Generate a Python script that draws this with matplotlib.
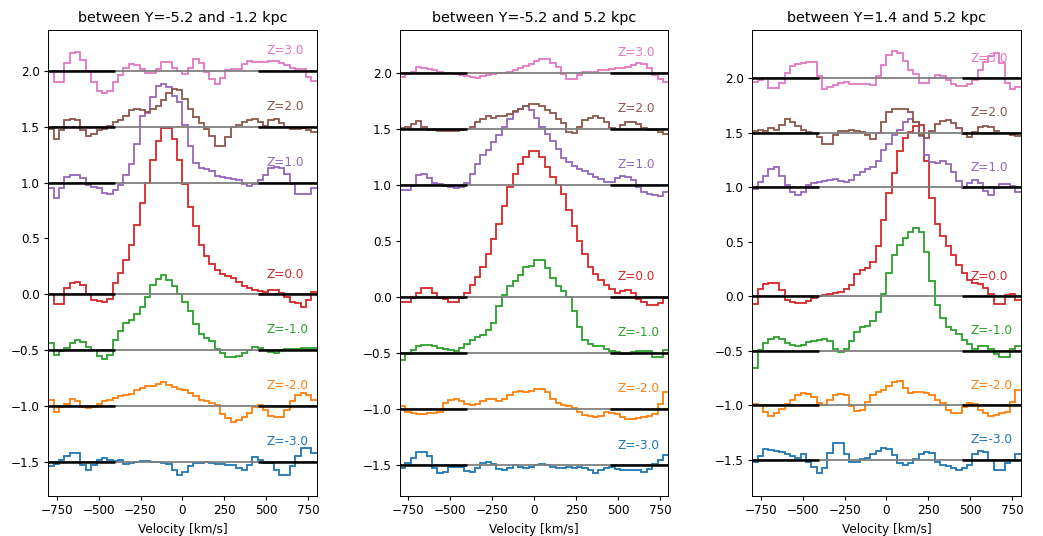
import numpy as np
import matplotlib
matplotlib.use("Agg")
import matplotlib.pyplot as plt

# the reference was drawn a bit smaller than default, scale things down
plt.rcParams["xtick.labelsize"] = 8.65
plt.rcParams["ytick.labelsize"] = 8.65
plt.rcParams["axes.labelsize"] = 8.65
plt.rcParams["axes.titlesize"] = 10.4
plt.rcParams["xtick.major.size"] = 3.0
plt.rcParams["ytick.major.size"] = 3.0
plt.rcParams["xtick.major.pad"] = 3.0
plt.rcParams["ytick.major.pad"] = 3.0
plt.rcParams["axes.linewidth"] = 0.7

# velocity bins (km/s)
vel_edges = np.arange(-800, 801, 32)
z_values = [-3.0, -2.0, -1.0, 0.0, 1.0, 2.0, 3.0]
offsets = [-1.5, -1.0, -0.5, 0.0, 1.0, 1.5, 2.0]
titles = ["between Y=-5.2 and -1.2 kpc", "between Y=-5.2 and 5.2 kpc", "between Y=1.4 and 5.2 kpc"]
ylims = [(-1.804, 2.367), (-1.77, 2.38), (-1.83, 2.443)]
xticks = [-750, -500, -250, 0, 250, 500, 750]

# panel 1 : Y=-5.2 .. -1.2
left_zm3 = [-0.04, -0.02, 0.02, 0.05, 0.08, 0.08, -0.03, -0.07, -0.03, 0.02, 0.03, 0.02, 0.01, 0.02, -0.02, -0.01, 0.0, 0.01, 0.01, 0.0,
            0.0, -0.01, -0.02, -0.07, -0.12, -0.09, -0.04, -0.01, -0.01, 0.0, -0.01, -0.02, -0.02, -0.03, -0.03, -0.06, -0.07, -0.03, 0.04, 0.02,
            -0.01, -0.01, -0.07, -0.12, -0.12, -0.04, 0.05, 0.12, 0.12, 0.08]
left_zm2 = [0.05, -0.05, -0.01, 0.02, 0.06, 0.04, -0.01, -0.02, -0.01, 0.02, 0.04, 0.05, 0.07, 0.09, 0.10, 0.11, 0.14, 0.16, 0.18, 0.18,
            0.20, 0.21, 0.19, 0.17, 0.15, 0.14, 0.12, 0.09, 0.05, 0.04, 0.03, 0.01, -0.07, -0.11, -0.14, -0.13, -0.10, -0.06, -0.01, 0.01,
            -0.04, -0.09, -0.10, -0.10, -0.04, 0.04, 0.10, 0.12, 0.10, 0.05]
left_zm1 = [0.06, -0.04, -0.01, 0.02, 0.06, 0.09, 0.07, 0.03, 0.0, -0.05, -0.08, -0.04, 0.09, 0.17, 0.24, 0.27, 0.32, 0.39, 0.48, 0.58,
            0.64, 0.67, 0.63, 0.57, 0.50, 0.43, 0.35, 0.23, 0.14, 0.11, 0.08, 0.01, -0.03, -0.06, -0.06, -0.05, -0.03, 0.0, 0.03, 0.02,
            0.0, -0.02, -0.03, 0.0, 0.01, 0.01, 0.01, 0.02, 0.02, 0.02]
left_z0 = [0.0, -0.09, -0.09, 0.06, 0.10, 0.11, 0.08, 0.0, -0.05, -0.06, -0.07, -0.04, 0.10, 0.19, 0.31, 0.44, 0.62, 0.82, 1.00, 1.20,
           1.37, 1.49, 1.49, 1.39, 1.20, 0.99, 0.78, 0.61, 0.44, 0.34, 0.27, 0.22, 0.18, 0.16, 0.15, 0.11, 0.07, 0.06, 0.04, 0.03,
           0.02, 0.04, 0.04, 0.01, -0.02, -0.07, -0.08, -0.11, -0.05, 0.02]
left_z1 = [-0.05, -0.14, -0.05, 0.05, 0.07, 0.07, 0.04, -0.02, -0.04, -0.05, -0.09, -0.10, -0.07, -0.02, 0.07, 0.17, 0.35, 0.60, 0.62, 0.77,
           0.87, 0.88, 0.86, 0.78, 0.72, 0.52, 0.33, 0.18, 0.13, 0.12, 0.10, 0.06, 0.05, 0.04, 0.03, 0.02, -0.01, -0.03, -0.01, 0.02,
           0.07, 0.13, 0.14, 0.13, 0.08, -0.01, -0.10, -0.10, -0.10, -0.05]
left_z2 = [-0.02, -0.11, -0.03, 0.06, 0.07, 0.06, -0.03, -0.08, -0.06, -0.03, -0.02, 0.01, 0.04, 0.06, 0.10, 0.15, 0.16, 0.15, 0.13, 0.16,
           0.19, 0.24, 0.30, 0.34, 0.33, 0.25, 0.16, 0.09, 0.03, -0.02, -0.08, -0.17, -0.17, -0.09, 0.0, 0.02, 0.04, 0.06, 0.07, 0.04,
           0.01, 0.06, 0.07, 0.03, 0.0, -0.02, -0.02, -0.01, -0.03, -0.05]
left_z3 = [0.0, -0.10, -0.10, 0.07, 0.16, 0.17, 0.10, 0.0, -0.10, -0.18, -0.20, -0.18, -0.10, -0.04, 0.03, 0.06, 0.05, 0.02, -0.02, -0.02,
           0.02, 0.08, 0.08, 0.03, 0.0, -0.03, 0.03, 0.11, 0.07, -0.01, -0.07, -0.12, -0.06, 0.01, 0.02, 0.02, 0.06, 0.09, 0.08, 0.08,
           0.08, 0.09, 0.09, 0.07, 0.05, 0.03, 0.02, 0.02, -0.05, -0.09]

# panel 2 : Y=-5.2 .. 5.2
all_zm3 = [-0.02, 0.02, 0.07, 0.12, 0.12, 0.08, -0.02, -0.07, -0.06, -0.01, -0.01, -0.01, -0.05, -0.06, -0.02, 0.02, 0.03, 0.01, -0.03, -0.04,
           -0.02, 0.0, -0.01, -0.02, -0.01, 0.0, 0.01, 0.0, -0.01, -0.02, -0.02, -0.01, -0.02, -0.01, -0.02, -0.04, -0.07, -0.04, -0.02, -0.01,
           -0.03, -0.04, -0.04, -0.04, -0.04, -0.06, -0.03, 0.01, 0.05, 0.09]
all_zm2 = [0.03, -0.02, -0.03, -0.04, -0.04, -0.03, -0.03, -0.02, 0.06, 0.08, 0.09, 0.07, 0.05, 0.04, 0.05, 0.07, 0.09, 0.09, 0.07, 0.09,
           0.13, 0.15, 0.16, 0.15, 0.16, 0.18, 0.18, 0.15, 0.09, 0.06, 0.04, 0.03, 0.01, -0.02, -0.05, -0.06, -0.07, -0.06, -0.02, -0.03,
           -0.04, -0.07, -0.09, -0.09, -0.08, -0.07, -0.06, -0.04, 0.05, 0.15]
all_zm1 = [-0.06, -0.01, 0.03, 0.06, 0.07, 0.07, 0.06, 0.05, 0.04, 0.03, 0.02, 0.05, 0.08, 0.12, 0.14, 0.16, 0.21, 0.27, 0.42, 0.52,
           0.60, 0.64, 0.70, 0.77, 0.78, 0.83, 0.83, 0.76, 0.67, 0.60, 0.55, 0.50, 0.38, 0.23, 0.12, 0.08, 0.06, 0.06, 0.04, 0.02,
           0.01, -0.01, -0.01, 0.01, 0.02, 0.02, 0.02, -0.03, -0.03, 0.03]
all_z0 = [-0.04, -0.04, -0.01, 0.04, 0.08, 0.08, 0.04, -0.01, -0.02, -0.04, -0.04, -0.01, 0.04, 0.11, 0.18, 0.27, 0.38, 0.52, 0.65, 0.81,
          0.98, 1.10, 1.19, 1.25, 1.30, 1.30, 1.25, 1.16, 1.07, 1.00, 0.92, 0.78, 0.63, 0.50, 0.38, 0.27, 0.21, 0.15, 0.11, 0.07,
          0.04, 0.05, 0.06, 0.04, -0.02, -0.04, -0.07, -0.07, -0.05, -0.01]
all_z1 = [-0.05, -0.05, -0.01, 0.09, 0.10, 0.06, 0.02, 0.01, -0.01, -0.02, -0.03, -0.02, 0.02, 0.10, 0.19, 0.27, 0.31, 0.38, 0.44, 0.52,
          0.59, 0.65, 0.68, 0.70, 0.67, 0.60, 0.52, 0.45, 0.39, 0.32, 0.24, 0.20, 0.17, 0.14, 0.12, 0.10, 0.07, 0.05, 0.03, 0.03,
          0.06, 0.08, 0.07, 0.04, -0.02, -0.06, -0.08, -0.09, -0.10, -0.06]
all_z2 = [0.01, 0.02, 0.04, 0.07, 0.02, -0.01, -0.01, -0.02, -0.02, -0.02, -0.02, -0.01, 0.0, 0.02, 0.06, 0.09, 0.11, 0.10, 0.11, 0.11,
          0.13, 0.16, 0.18, 0.20, 0.22, 0.22, 0.20, 0.17, 0.14, 0.09, 0.05, -0.03, -0.04, 0.02, 0.08, 0.10, 0.11, 0.10, 0.06, 0.01,
          0.0, 0.03, 0.06, 0.06, 0.04, 0.01, -0.01, -0.01, -0.03, -0.05]
all_z3 = [-0.04, -0.01, 0.01, 0.05, 0.04, 0.03, 0.02, 0.01, 0.0, 0.0, -0.01, -0.02, -0.03, -0.04, -0.05, -0.03, -0.02, -0.01, 0.0, 0.0,
          0.01, 0.02, 0.04, 0.06, 0.08, 0.10, 0.12, 0.12, 0.09, 0.05, -0.01, -0.06, -0.06, -0.02, 0.01, 0.01, 0.01, 0.02, 0.02, 0.03,
          0.04, 0.04, 0.05, 0.07, 0.09, 0.08, 0.04, -0.02, -0.06, -0.08]

# panel 3 : Y=1.4 .. 5.2
right_zm3 = [-0.02, 0.03, 0.10, 0.09, 0.08, 0.07, 0.05, 0.03, 0.02, 0.05, -0.02, -0.07, -0.12, -0.08, 0.06, 0.15, 0.15, 0.05, -0.02, -0.02,
             0.01, 0.02, 0.05, 0.08, 0.11, 0.10, 0.04, -0.03, -0.05, -0.03, 0.01, 0.05, 0.07, 0.06, -0.02, -0.05, -0.06, -0.08, -0.09, -0.08,
             -0.05, 0.05, 0.08, 0.07, 0.0, -0.09, -0.09, -0.03, 0.0, 0.05]
right_zm2 = [0.01, 0.0, -0.06, -0.10, -0.07, -0.03, 0.01, 0.05, 0.09, 0.11, 0.10, 0.08, 0.02, 0.0, 0.05, 0.09, 0.10, 0.09, -0.01, -0.05,
             -0.04, 0.03, 0.09, 0.12, 0.14, 0.18, 0.21, 0.22, 0.16, 0.11, 0.12, 0.12, 0.11, 0.09, 0.05, 0.02, -0.04, -0.07, -0.07, -0.02,
             0.02, 0.01, -0.04, -0.07, -0.10, -0.09, -0.07, -0.06, 0.03, 0.14]
right_zm1 = [-0.16, 0.01, 0.07, 0.11, 0.13, 0.11, 0.07, 0.05, 0.04, 0.05, 0.08, 0.09, 0.10, 0.11, 0.09, 0.02, -0.01, 0.02, 0.09, 0.17,
             0.22, 0.23, 0.27, 0.36, 0.52, 0.71, 0.88, 0.97, 1.03, 1.09, 1.13, 1.09, 0.91, 0.64, 0.42, 0.30, 0.22, 0.19, 0.15, 0.10,
             0.06, 0.02, 0.04, 0.04, 0.02, -0.03, -0.06, -0.06, 0.02, 0.04]
right_z0 = [-0.07, 0.07, 0.11, 0.12, 0.12, 0.06, -0.03, -0.05, -0.06, -0.06, -0.04, -0.02, 0.0, 0.01, 0.02, 0.03, 0.04, 0.07, 0.10, 0.20,
            0.24, 0.26, 0.31, 0.46, 0.70, 0.95, 1.13, 1.33, 1.45, 1.51, 1.56, 1.57, 1.24, 0.90, 0.66, 0.55, 0.46, 0.38, 0.29, 0.21,
            0.15, 0.12, 0.11, 0.08, 0.02, -0.07, -0.07, 0.01, 0.02, -0.03]
right_z1 = [-0.02, 0.05, 0.10, 0.17, 0.19, 0.10, 0.02, -0.04, -0.07, -0.04, 0.02, 0.04, 0.05, 0.06, 0.07, 0.08, 0.06, 0.05, 0.07, 0.11,
            0.14, 0.17, 0.19, 0.24, 0.34, 0.40, 0.48, 0.53, 0.60, 0.63, 0.60, 0.47, 0.30, 0.23, 0.22, 0.24, 0.21, 0.14, 0.06, -0.01,
            0.04, 0.07, 0.04, -0.03, -0.07, -0.01, 0.03, 0.03, 0.01, -0.04]
right_z2 = [0.02, 0.03, 0.02, 0.04, 0.03, 0.07, 0.13, 0.10, 0.06, 0.03, 0.01, 0.0, -0.04, -0.10, -0.10, -0.02, 0.02, 0.02, 0.03, 0.02,
            0.01, -0.02, -0.06, 0.0, 0.10, 0.19, 0.22, 0.22, 0.22, 0.19, 0.10, -0.02, -0.05, 0.02, 0.08, 0.11, 0.12, 0.09, 0.04, -0.01,
            -0.04, 0.01, 0.05, 0.06, 0.05, 0.02, 0.0, 0.0, -0.02, -0.03]
right_z3 = [-0.03, -0.02, 0.0, -0.09, -0.09, -0.04, 0.05, 0.11, 0.13, 0.14, 0.15, 0.15, 0.02, -0.10, -0.08, -0.06, -0.04, -0.03, -0.05, -0.05,
            -0.05, -0.05, -0.06, 0.02, 0.12, 0.21, 0.25, 0.23, 0.16, 0.08, 0.04, -0.04, -0.04, 0.0, 0.03, 0.02, -0.02, -0.05, -0.07, -0.07,
            -0.05, -0.02, 0.08, 0.15, 0.20, 0.23, 0.14, -0.04, -0.10, -0.08]

panels = [
    [left_zm3, left_zm2, left_zm1, left_z0, left_z1, left_z2, left_z3],
    [all_zm3, all_zm2, all_zm1, all_z0, all_z1, all_z2, all_z3],
    [right_zm3, right_zm2, right_zm1, right_z0, right_z1, right_z2, right_z3],
]


def plot_panel(ax, profiles, title, ylim):
    for i, (z, off, prof) in enumerate(zip(z_values, offsets, profiles)):
        c = "C%d" % i
        ax.stairs(np.array(prof) + off, vel_edges, baseline=None, color=c, lw=1.3)
        ax.axhline(off, color="gray", lw=1.3)
        # continuum windows
        ax.hlines(off, -800, -400, color="k", lw=1.8)
        ax.hlines(off, 450, 800, color="k", lw=1.8)
        ax.text(500, off + 0.15, "Z=%.1f" % z, color=c, fontsize=8.7)
    ax.set_xlim(-800, 800)
    ax.set_ylim(*ylim)
    ax.set_xticks(xticks)
    ax.set_title(title)
    ax.set_xlabel("Velocity [km/s]", labelpad=4.5)


fig = plt.figure(figsize=(10.43, 5.36), dpi=100)
lefts = [0.0463, 0.3834, 0.7213]
for k in range(3):
    ax = fig.add_axes([lefts[k], 0.0752, 0.2573, 0.8688])
    plot_panel(ax, panels[k], titles[k], ylims[k])

fig.savefig("out.png", dpi=100)
